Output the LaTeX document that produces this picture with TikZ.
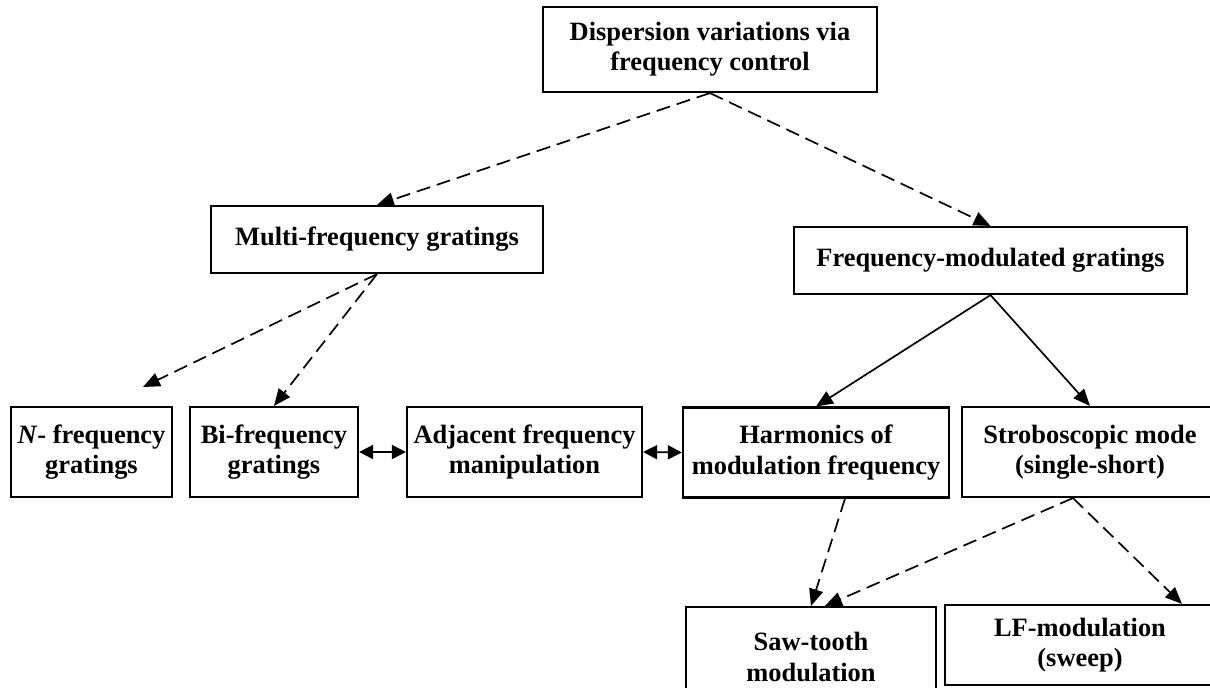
\documentclass[tikz,border=0pt]{standalone}
\usepackage{fontspec}
\setmainfont{Liberation Serif}
\usepackage{xcolor}
\usepackage{tikz}
\usetikzlibrary{arrows.meta, positioning, calc}
\definecolor{inkblack}{HTML}{000000}
\tikzset{
  arr/.style={-{Triangle[length=12pt,width=10pt]}, line width=1.2pt, inkblack},
  darr/.style={-{Triangle[length=12pt,width=10pt]}, line width=1.2pt, inkblack, dash pattern=on 10pt off 5pt},
  barr/.style={{Triangle[length=10pt,width=10pt]}-{Triangle[length=10pt,width=10pt]}, line width=1.2pt, inkblack},
  gbox/.style={rectangle, draw=inkblack, fill=white, line width=1.5pt, align=center, inner sep=2pt, text=inkblack},
}

\begin{document}
\begin{tikzpicture}[x=0.025cm, y=-0.025cm, font=\fontsize{18.8pt}{21.5pt}\selectfont\bfseries,
    toprow/.style={gbox, minimum height=1.675cm},
    lowrow/.style={gbox, minimum height=2.25cm}]

  \useasboundingbox (0,0) rectangle (1210,687);
  \clip (0,0) rectangle (1210,687);

  % Root and the two families
  \node[gbox, minimum width=8.35cm, minimum height=2.125cm] (disp) at (710,49.5) {Dispersion variations via\\frequency control};
  \node[toprow, minimum width=8.3cm] (multi) at (377,239.5) {Multi-frequency gratings};
  \node[toprow, minimum width=9.825cm] (fmg) at (990.5,260.5) {Frequency-modulated gratings};

  % Middle row
  \node[lowrow, minimum width=4.025cm] (nfreq) at (91.5,452) {\textit{N}- frequency\\gratings};
  \node[lowrow, minimum width=4.2cm] (bifreq) at (274,452) {Bi-frequency\\gratings};
  \node[lowrow, minimum width=5.875cm] (adjac) at (524.5,452) {Adjacent frequency\\manipulation};
  \node[lowrow, minimum width=6.65cm] (harmon) at (816,452.5) {Harmonics of\\modulation frequency};
  \node[lowrow, minimum width=6.4cm] (strobo) at (1090,452) {Stroboscopic mode\\(single-short)};

  % Bottom row
  \node[gbox, minimum width=6.25cm, minimum height=2.5cm] (sawtooth) at (811,657) {Saw-tooth\\modulation};
  \node[gbox, minimum width=6.75cm, minimum height=2cm] (lfmod) at (1080,645) {LF-modulation\\(sweep)};

  \coordinate (nend) at (143,387);

  \foreach \a/\b in {disp/multi,disp/fmg,multi/bifreq} {
    \draw[darr] (\a.south) -- (\b.north);
  }
  \draw[darr] (multi.south) -- (nend);
  \foreach \b in {harmon,strobo} {
    \draw[arr] (fmg.south) -- (\b.north);
  }
  \draw[darr] ([xshift=0.725cm]harmon.south) -- (sawtooth.north);
  \draw[darr] ([xshift=-0.425cm]strobo.south) -- ([xshift=0.35cm]sawtooth.north);
  \draw[darr] ([xshift=-0.425cm]strobo.south) -- ([xshift=2.55cm]lfmod.north);

  \draw[barr] (bifreq.east) -- (adjac.west);
  \draw[barr] (adjac.east) -- (harmon.west);
\end{tikzpicture}
\end{document}
